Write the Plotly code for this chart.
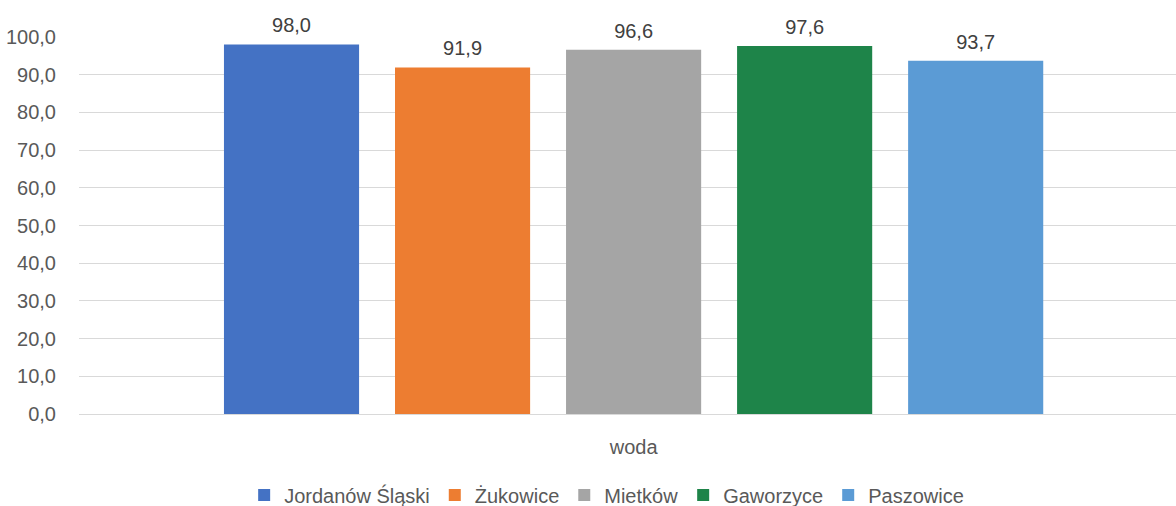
import plotly.graph_objects as go

categories = ["woda"]
series_names = ["Jordanów Śląski", "Żukowice", "Mietków", "Gaworzyce", "Paszowice"]
series_values = [[98.0], [91.9], [96.6], [97.6], [93.7]]
colors = ["#4472C4", "#ED7D31", "#A5A5A5", "#1E8449", "#5B9BD5"]

font_family = "Liberation Sans Narrow, Arial Narrow, Liberation Sans, Arial, sans-serif"

fig = go.Figure()
for name, vals, col in zip(series_names, series_values, colors):
    fig.add_trace(go.Bar(
        x=categories, y=vals, name=name,
        marker=dict(color=col, line=dict(width=0)),
        offsetgroup=name,
    ))

# data labels as grouped scatter text so the gap above bars can be tuned
for name, vals in zip(series_names, series_values):
    fig.add_trace(go.Scatter(
        x=categories, y=vals, mode="markers+text",
        marker=dict(size=10, opacity=0),
        text=[f"{v:.1f}".replace(".", ",") for v in vals],
        textposition="top center",
        textfont=dict(size=20, color="#404040", family=font_family),
        offsetgroup=name, showlegend=False, hoverinfo="skip", cliponaxis=False,
    ))

fig.update_layout(
    width=1176, height=506,
    margin=dict(l=79, r=0, t=37, b=92, autoexpand=False),
    paper_bgcolor="white", plot_bgcolor="white",
    separators=", ",
    barmode="group", bargap=0.229, bargroupgap=0.21,
    scattermode="group", scattergap=0.229,
    font=dict(family=font_family, size=20, color="#595959"),
    showlegend=True,
    legend=dict(orientation="h", x=0.481, xanchor="center", y=-0.215, yanchor="middle",
                font=dict(size=20, color="#595959"), traceorder="normal"),
    xaxis=dict(range=[-0.5, 0.489], showgrid=False, showline=True, linecolor="#d9d9d9",
               linewidth=1, ticks="outside", ticklen=15, tickcolor="rgba(0,0,0,0)",
               tickfont=dict(size=20, color="#595959"), automargin=False),
    yaxis=dict(range=[0, 100], dtick=10, tickformat=".1f", showgrid=True,
               gridcolor="#d9d9d9", gridwidth=1, zeroline=False, showline=False,
               ticks="outside", ticklen=18, tickcolor="rgba(0,0,0,0)",
               tickfont=dict(size=20, color="#595959"), automargin=False),
)

fig.write_html("out.html", config={"displayModeBar": False},
               post_script="document.body.style.margin='0';")
